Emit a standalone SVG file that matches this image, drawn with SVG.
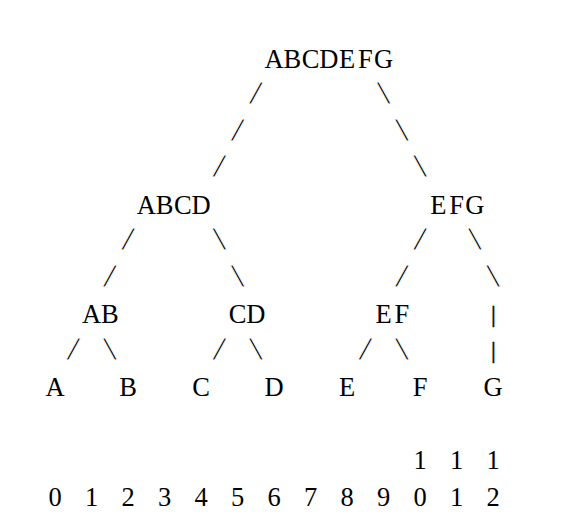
<svg xmlns="http://www.w3.org/2000/svg" width="579" height="529" viewBox="0 0 579 529">
<style>
text{font-family:"Liberation Serif","Times New Roman",serif;font-size:26.5px;fill:#000;text-anchor:middle}
#connectors text{font-family:"Liberation Mono","Courier New",monospace;font-size:30.4px;stroke:#fff;stroke-width:0.9px}
#connectors text.bar{font-family:"Liberation Serif","Times New Roman",serif;stroke:#000;stroke-width:0.45px;font-size:24px}
</style>
<rect width="579" height="529" fill="#fff"/>
<g id="connectors">
<text x="255.75" y="104.2">/</text>
<text x="383.5" y="104.2">\</text>
<text x="237.5" y="140.7">/</text>
<text x="401.75" y="140.7">\</text>
<text x="219.25" y="177.2">/</text>
<text x="420" y="177.2">\</text>
<text x="128" y="250.2">/</text>
<text x="219.25" y="250.2">\</text>
<text x="420" y="250.2">/</text>
<text x="474.75" y="250.2">\</text>
<text x="109.75" y="286.7">/</text>
<text x="237.5" y="286.7">\</text>
<text x="401.75" y="286.7">/</text>
<text x="493" y="286.7">\</text>
<text class="bar" x="493.4" y="321.5">|</text>
<text x="73.25" y="359.7">/</text>
<text x="109.75" y="359.7">\</text>
<text x="219.25" y="359.7">/</text>
<text x="255.75" y="359.7">\</text>
<text x="365.25" y="359.7">/</text>
<text x="401.75" y="359.7">\</text>
<text class="bar" x="493.4" y="357.5">|</text>
</g>
<g id="node-ABCDEFG"><text x="274 292.25 310.5 328.75 347 365.25 383.5" y="67.7">ABCDEFG</text></g>
<g id="node-ABCD"><text x="146.25 164.5 182.75 201" y="213.7">ABCD</text></g>
<g id="node-EFG"><text x="438.25 456.5 474.75" y="213.7">EFG</text></g>
<g id="node-AB"><text x="91.5 109.75" y="323.2">AB</text></g>
<g id="node-CD"><text x="237.5 255.75" y="323.2">CD</text></g>
<g id="node-EF"><text x="383.5 401.75" y="323.2">EF</text></g>
<g id="node-A"><text x="55" y="396.2">A</text></g>
<g id="node-B"><text x="128" y="396.2">B</text></g>
<g id="node-C"><text x="201" y="396.2">C</text></g>
<g id="node-D"><text x="274" y="396.2">D</text></g>
<g id="node-E"><text x="347" y="396.2">E</text></g>
<g id="node-F"><text x="420" y="396.2">F</text></g>
<g id="node-G"><text x="493" y="396.2">G</text></g>
<g id="axis">
<text x="420 456.5 493" y="469.2">111</text>
<text x="55 91.5 128 164.5 201 237.5 274 310.5 347 383.5 420 456.5 493" y="505.7">0123456789012</text>
</g>
</svg>
